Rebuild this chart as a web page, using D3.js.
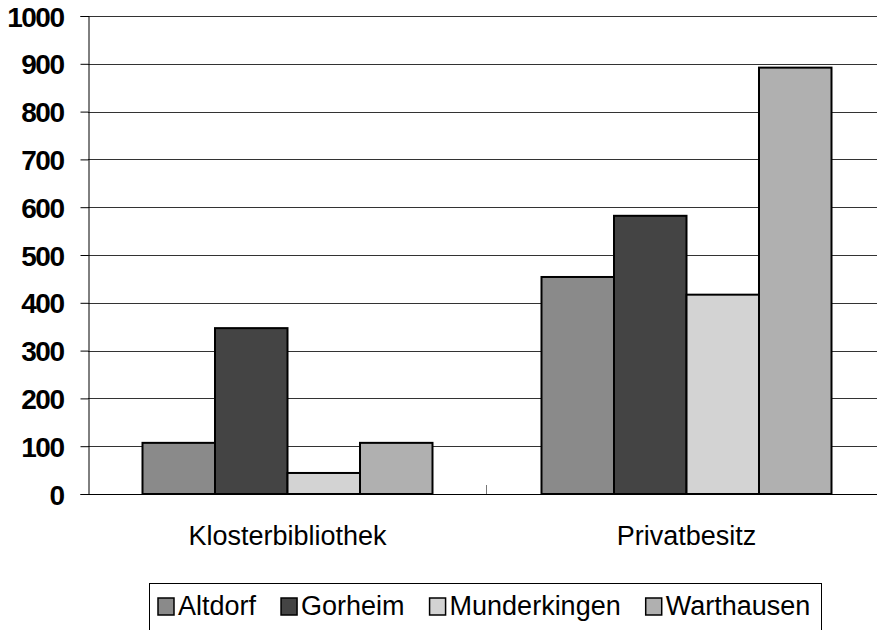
<!DOCTYPE html>
<html>
	<head>
		<meta charset="utf-8">
		<title>Klosterbibliothek / Privatbesitz</title>
		<style>
			body{margin:0;background:#fff;}
			text{font-family:"Liberation Sans",Arial,sans-serif;fill:#000;}
		</style>
	</head>
	<body>
		<script src="https://cdn.jsdelivr.net/npm/d3@7"></script>
		<script>
			// Daten
			var categories = ["Klosterbibliothek","Privatbesitz"];
			var seriesNames = ["Altdorf","Gorheim","Munderkingen","Warthausen"];
			var altdorf = [107,454];
			var gorheim = [347,582];
			var munderkingen = [44,417];
			var warthausen = [107,892];
			var yTicks = [0,100,200,300,400,500,600,700,800,900,1000];
			var colors = ["#8a8a8a","#444444","#d3d3d3","#b0b0b0"];

			var seriesValues = [altdorf,gorheim,munderkingen,warthausen];

			var svgStyle = {width:877,height:630,left:88,right:886,top:16,bottom:494};

			var svg = d3.select("body")
						.append("svg")
						.attr("width",svgStyle.width)
						.attr("height",svgStyle.height);

			//比例尺
			var xScale = d3.scaleBand()
							.domain(categories)
							.range([svgStyle.left,svgStyle.right]);
			var bw = xScale.bandwidth();
			var xSub = d3.scaleBand()
							.domain(seriesNames)
							.range([bw*0.1366,bw*0.8634]);
			var yScale = d3.scaleLinear()
							.domain([0,1000])
							.range([svgStyle.bottom,svgStyle.top]);

			//网格线
			svg.append("g")
				.selectAll("line")
				.data(yTicks.slice(1))
				.enter()
				.append("line")
				.attr("x1",svgStyle.left)
				.attr("x2",svgStyle.width)
				.attr("y1",function(d){return Math.round(yScale(d))+0.5;})
				.attr("y2",function(d){return Math.round(yScale(d))+0.5;})
				.attr("stroke","#333")
				.attr("stroke-width",1);

			//柱子
			var rows = [];
			seriesNames.forEach(function(s,si){
				categories.forEach(function(c,ci){
					rows.push({s:s,c:c,v:seriesValues[si][ci],color:colors[si]});
				});
			});
			svg.append("g")
				.selectAll("rect")
				.data(rows)
				.enter()
				.append("rect")
				.attr("x",function(d){return xScale(d.c)+xSub(d.s);})
				.attr("y",function(d){return yScale(d.v);})
				.attr("width",xSub.bandwidth())
				.attr("height",function(d){return yScale(0)-yScale(d.v);})
				.attr("fill",function(d){return d.color;})
				.attr("stroke","#000")
				.attr("stroke-width",2);

			//坐标轴
			var yAxis = d3.axisLeft(yScale)
							.tickValues(yTicks)
							.tickFormat(d3.format("d"))
							.tickSize(8)
							.tickPadding(17);
			var gy = svg.append("g")
				.attr("transform","translate("+(svgStyle.left+0.5)+",0)")
				.call(yAxis);
			gy.select(".domain").attr("stroke","#000");
			gy.selectAll(".tick line").attr("stroke","#000");
			gy.selectAll(".tick text")
				.style("font-size","28px")
				.style("font-weight","bold")
				.style("letter-spacing","-1.5px")
				.attr("dy","0.36em");

			//x轴
			svg.append("line")
				.attr("x1",svgStyle.left)
				.attr("x2",svgStyle.width)
				.attr("y1",svgStyle.bottom+0.5)
				.attr("y2",svgStyle.bottom+0.5)
				.attr("stroke","#000");
			svg.append("g")
				.selectAll("line")
				.data(categories.slice(1))
				.enter()
				.append("line")
				.attr("x1",function(d){return Math.round(xScale(d))-0.5;})
				.attr("x2",function(d){return Math.round(xScale(d))-0.5;})
				.attr("y1",svgStyle.bottom)
				.attr("y2",svgStyle.bottom-9)
				.attr("stroke","#777");
			svg.append("g")
				.selectAll("text")
				.data(categories)
				.enter()
				.append("text")
				.attr("x",function(d){return xScale(d)+bw/2;})
				.attr("y",545)
				.attr("text-anchor","middle")
				.style("font-size","27px")
				.text(function(d){return d;});

			//图例
			var legend = svg.append("g");
			legend.append("rect")
				.attr("x",149.5)
				.attr("y",583.5)
				.attr("width",672)
				.attr("height",80)
				.attr("fill","#fff")
				.attr("stroke","#000");
			var lx = 158;
			seriesNames.forEach(function(s,i){
				legend.append("rect")
					.attr("x",lx)
					.attr("y",598)
					.attr("width",16)
					.attr("height",17)
					.attr("fill",colors[i])
					.attr("stroke","#000")
					.attr("stroke-width",1.5);
				var t = legend.append("text")
					.attr("x",lx+20)
					.attr("y",615)
					.style("font-size","27px")
					.text(s);
				lx += 20+t.node().getComputedTextLength()+25;
			});
		</script>
	</body>
</html>
